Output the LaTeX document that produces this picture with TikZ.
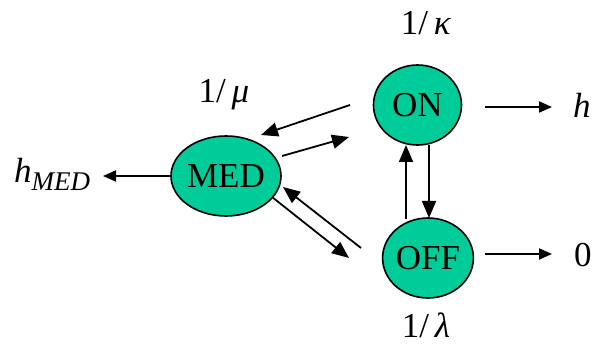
\documentclass[tikz,border=0pt]{standalone}
\usepackage{fontspec}
\setmainfont{Liberation Serif}
\usetikzlibrary{arrows.meta,shapes.geometric}
\definecolor{teal1}{RGB}{0,204,153}
\begin{document}
\begin{tikzpicture}[x=1pt,y=-1pt,
  state/.style={ellipse,draw=black,line width=1.6pt,fill=teal1,minimum width=88pt,minimum height=80pt,inner sep=0pt,font=\fontsize{35}{38}\selectfont},
  bigarr/.style={line width=1.8pt,-{Triangle[length=17pt,width=14pt]}},
  smallarr/.style={line width=1.8pt,-{Triangle[length=13pt,width=11pt]}},
  lab/.style={inner sep=0pt,anchor=base,font=\fontsize{35}{38}\selectfont}]
\useasboundingbox (0,0) rectangle (592,347);
\node[state] (on) at (417.5,105) {ON};
\node[state] (med) at (226,176) {MED};
\node[state] (off) at (428,258) {OFF};
% ON-MED
\coordinate (a1) at (350,105); \coordinate (a2) at (261,135);
\draw[bigarr] (a1) -- (a2);
\coordinate (b1) at (282,156); \coordinate (b2) at (349,137);
\draw[bigarr] (b1) -- (b2);
% MED-OFF
\coordinate (c1) at (361,248); \coordinate (c2) at (283,187);
\draw[bigarr] (c1) -- (c2);
\coordinate (d1) at (272,197); \coordinate (d2) at (349,258);
\draw[bigarr] (d1) -- (d2);
% ON-OFF
\coordinate (e1) at (406,219); \coordinate (e2) at (406,145);
\draw[bigarr] (e1) -- (e2);
\coordinate (f1) at (429,145); \coordinate (f2) at (429,218);
\draw[bigarr] (f1) -- (f2);
% outputs
\node[lab,anchor=base west] (h) at (573,118) {\textit{h}};
\node[lab,anchor=base west] (zero) at (574,267) {0};
\node[lab,anchor=base west] (hmed) at (14,183) {\textit{h}\raisebox{-8pt}{\fontsize{27}{30}\selectfont\textit{MED}}};
\coordinate (g1) at (485,107); \coordinate (g2) at (552,107);
\draw[smallarr] (g1) -- (g2);
\coordinate (i1) at (485,254); \coordinate (i2) at (552,254);
\draw[smallarr] (i1) -- (i2);
\coordinate (j1) at (170,176); \coordinate (j2) at (103,176);
\draw[smallarr] (j1) -- (j2);
% rates
\node[lab] (kappa) at (426,35) {1/\,\textit{κ}};
\node[lab] (mu) at (224,103) {1/\,\textit{μ}};
\node[lab] (lambda) at (426,338) {1/\,\textit{λ}};
\end{tikzpicture}
\end{document}
